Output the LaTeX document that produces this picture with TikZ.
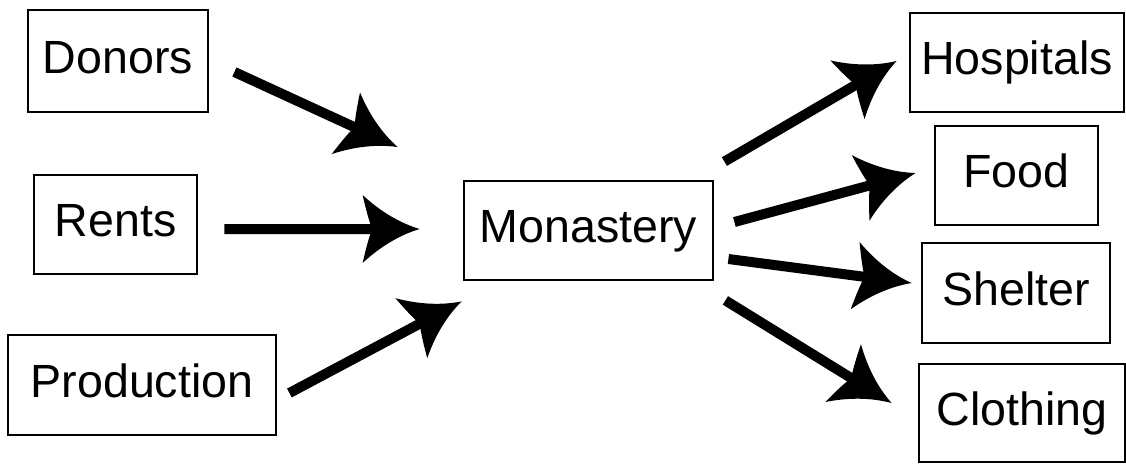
\documentclass[tikz,border=0pt]{standalone}
\usepackage{fontspec}
\setmainfont{Liberation Sans}
\usetikzlibrary{positioning, arrows.meta}

% swept arrow head with curved barbs
\pgfdeclarearrow{
  name=Swept,
  setup code={
    \pgfarrowssettipend{0pt}
    \pgfarrowssetlineend{-25pt}
    \pgfarrowssetbackend{-32.4pt}
    \pgfarrowsupperhullpoint{-32.4pt}{19.3pt}
    \pgfarrowsupperhullpoint{0pt}{0pt}
  },
  drawing code={
    \pgfpathmoveto{\pgfqpoint{0pt}{0pt}}
    \pgfpathquadraticcurveto{\pgfqpoint{-17.1pt}{5.2pt}}{\pgfqpoint{-32.4pt}{19.3pt}}
    \pgfpathquadraticcurveto{\pgfqpoint{-29.6pt}{6.8pt}}{\pgfqpoint{-27pt}{0pt}}
    \pgfpathquadraticcurveto{\pgfqpoint{-29.6pt}{-6.8pt}}{\pgfqpoint{-32.4pt}{-19.3pt}}
    \pgfpathquadraticcurveto{\pgfqpoint{-17.1pt}{-5.2pt}}{\pgfqpoint{0pt}{0pt}}
    \pgfpathclose
    \pgfusepathqfill
  }
}

\tikzset{
  box/.style={
    draw, line width=1.6pt, fill=white,
    inner sep=0pt, align=center,
    font=\fontsize{26.5}{30}\selectfont,
    text height=19.3pt, text depth=5.6pt
  },
  flow/.style={line width=0.2cm, -{Swept}}
}

\begin{document}
\begin{tikzpicture}

\useasboundingbox (0,0) rectangle (22.52,-9.26);

%% ── Sources ──────────────────────────────────────────────────
\node[box, minimum width=3.6cm,  minimum height=2.04cm] (donors)     at (2.36,-1.22) {Donors};
\node[box, minimum width=3.26cm, minimum height=1.98cm] (rents)      at (2.31,-4.49) {Rents};
\node[box, minimum width=5.36cm, minimum height=2.0cm]  (production) at (2.84,-7.70) {Production};

%% ── Centre ───────────────────────────────────────────────────
\node[box, minimum width=4.98cm, minimum height=1.98cm] (mon) at (11.77,-4.61) {Monastery};

%% ── Uses ─────────────────────────────────────────────────────
\node[box, minimum width=4.28cm, minimum height=1.98cm] (hosp)     at (20.34,-1.25) {Hospitals};
\node[box, minimum width=3.26cm, minimum height=1.98cm] (food)     at (20.33,-3.51) {Food};
\node[box, minimum width=3.76cm, minimum height=2.0cm]  (shelter)  at (20.32,-5.86) {Shelter};
\node[box, minimum width=4.12cm, minimum height=1.96cm] (clothing) at (20.44,-8.26) {Clothing};

%% ── Arrows in ────────────────────────────────────────────────
\draw[flow] ([shift={(0.5,-0.22)}]donors.east) -- ([shift={(-1.3,1.67)}]mon.west);
\draw[flow] ([shift={(0.52,-0.09)}]rents.east) -- ([shift={(-0.86,0.03)}]mon.west);
\draw[flow] ([shift={(0.24,-0.16)}]production.east) -- ([shift={(-0.02,-0.4)}]mon.south west);

%% ── Arrows out ───────────────────────────────────────────────
\draw[flow] ([shift={(0.2,0.36)}]mon.north east) -- ([shift={(-0.24,0.03)}]hosp.west);
\draw[flow] ([shift={(0.4,0.17)}]mon.east) -- ([shift={(-0.36,0.05)}]food.west);
\draw[flow] ([shift={(0.28,-0.57)}]mon.east) -- ([shift={(-0.18,0.2)}]shelter.west);
\draw[flow] ([shift={(0.22,-0.38)}]mon.south east) -- ([shift={(-0.52,0.2)}]clothing.west);

\end{tikzpicture}
\end{document}
